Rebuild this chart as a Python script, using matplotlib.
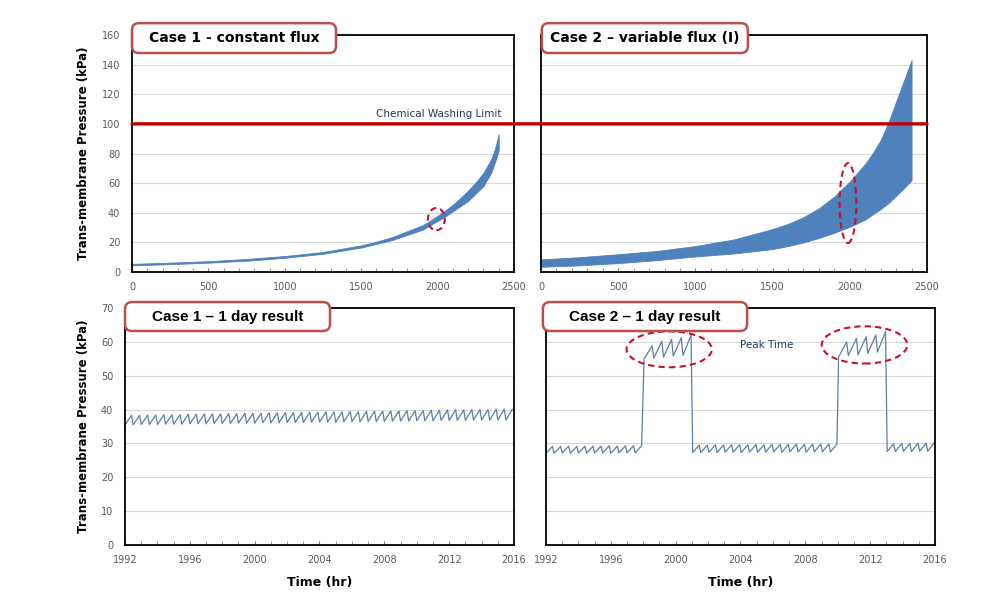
import matplotlib.pyplot as plt
from matplotlib.patches import ConnectionPatch, Ellipse, FancyBboxPatch

# ---- long run TMP (hr vs kPa), upper / lower edge of the daily band
case1_hours = [0, 250, 500, 750, 1000, 1250, 1500, 1600, 1700, 1800, 1900, 1950, 2000, 2050,
               2100, 2150, 2200, 2250, 2300, 2350, 2375, 2400]
case1_upper = [5.5, 6.3, 7.3, 8.8, 10.8, 13.5, 18.0, 20.5, 23.5, 27.5, 31.5, 34.5, 38.0, 41.5,
               45.5, 50.0, 55.0, 60.5, 67.0, 76.0, 83.0, 93.0]
case1_lower = [4.5, 5.3, 6.3, 7.6, 9.6, 12.3, 16.5, 19.0, 21.5, 25.0, 28.5, 31.5, 34.5, 37.5,
               41.0, 44.5, 48.0, 53.0, 58.0, 67.0, 74.0, 82.0]

case2_hours = [0, 250, 500, 750, 1000, 1250, 1500, 1600, 1700, 1800, 1900, 2000, 2100, 2150,
               2200, 2250, 2300, 2350, 2400]
case2_upper = [8.5, 10.0, 12.0, 14.2, 17.5, 22.0, 29.0, 32.5, 37.0, 43.0, 51.0, 61.0, 73.0, 80.5,
               89.0, 101.0, 115.0, 129.0, 143.0]
case2_lower = [3.5, 4.5, 6.0, 8.0, 10.5, 12.5, 15.5, 17.5, 20.0, 23.0, 26.5, 30.5, 35.5, 39.0,
               42.5, 46.5, 51.5, 56.5, 62.0]

washing_limit = 100

# ---- 1 day result, filtration cycles (start hour, TMP at start, TMP at end of cycle)
day1_start = [1992.0, 1992.5, 1993.0, 1993.5, 1994.0, 1994.5, 1995.0, 1995.5, 1996.0, 1996.5,
              1997.0, 1997.5, 1998.0, 1998.5, 1999.0, 1999.5, 2000.0, 2000.5, 2001.0, 2001.5,
              2002.0, 2002.5, 2003.0, 2003.5, 2004.0, 2004.5, 2005.0, 2005.5, 2006.0, 2006.5,
              2007.0, 2007.5, 2008.0, 2008.5, 2009.0, 2009.5, 2010.0, 2010.5, 2011.0, 2011.5,
              2012.0, 2012.5, 2013.0, 2013.5, 2014.0, 2014.5, 2015.0, 2015.5]
day1_low = [35.5, 35.5, 35.6, 35.6, 35.6, 35.7, 35.7, 35.7, 35.8, 35.8,
            35.8, 35.9, 35.9, 35.9, 36.0, 36.0, 36.0, 36.1, 36.1, 36.1,
            36.2, 36.2, 36.2, 36.3, 36.3, 36.3, 36.3, 36.4, 36.4, 36.4,
            36.5, 36.5, 36.5, 36.6, 36.6, 36.6, 36.7, 36.7, 36.7, 36.8,
            36.8, 36.8, 36.8, 36.9, 36.9, 36.9, 36.9, 36.9]
day1_high = [38.3, 38.3, 38.4, 38.4, 38.5, 38.5, 38.5, 38.6, 38.6, 38.7,
             38.7, 38.7, 38.8, 38.8, 38.9, 38.9, 38.9, 39.0, 39.0, 39.1,
             39.1, 39.1, 39.2, 39.2, 39.3, 39.3, 39.3, 39.4, 39.4, 39.5,
             39.5, 39.5, 39.6, 39.6, 39.7, 39.7, 39.7, 39.8, 39.8, 39.9,
             39.9, 39.9, 40.0, 40.0, 40.0, 40.1, 40.1, 40.1]

# case 2: normal - peak - normal - peak - normal
day2_start = [1992.0, 1992.5, 1993.0, 1993.5, 1994.0, 1994.5, 1995.0, 1995.5, 1996.0, 1996.5, 1997.0, 1997.5,
              1998.05, 1998.65, 1999.25, 1999.85, 2000.45,
              2001.05, 2001.55, 2002.05, 2002.55, 2003.05, 2003.55, 2004.05, 2004.55, 2005.05,
              2005.55, 2006.05, 2006.55, 2007.05, 2007.55, 2008.05, 2008.55, 2009.05, 2009.55,
              2010.05, 2010.65, 2011.25, 2011.85, 2012.45,
              2013.05, 2013.55, 2014.05, 2014.55, 2015.05, 2015.55]
day2_low = [27.1, 27.1, 27.2, 27.1, 27.2, 27.1, 27.2, 27.2, 27.1, 27.2, 27.2, 27.2,
            55.0, 55.2, 55.5, 55.8, 56.0,
            27.3, 27.3, 27.4, 27.3, 27.4, 27.4, 27.3, 27.4, 27.4,
            27.4, 27.5, 27.4, 27.5, 27.5, 27.4, 27.5, 27.5, 27.5,
            55.5, 56.0, 56.2, 56.6, 57.0,
            27.6, 27.6, 27.7, 27.6, 27.7, 27.7]
day2_high = [29.1, 29.1, 29.2, 29.1, 29.2, 29.2, 29.2, 29.3, 29.2, 29.3, 29.3, 29.3,
             58.8, 60.2, 60.8, 61.2, 62.0,
             29.5, 29.5, 29.6, 29.5, 29.6, 29.6, 29.6, 29.7, 29.6,
             29.7, 29.7, 29.7, 29.8, 29.7, 29.8, 29.8, 29.8, 29.8,
             60.0, 61.0, 61.5, 62.0, 63.0,
             29.9, 30.0, 30.0, 30.1, 30.1, 30.2]
day2_cycle = [0.4] * 12 + [0.5] * 5 + [0.4] * 18 + [0.5] * 5 + [0.4] * 6

W, H = 996, 608
BLUE = '#4f81bd'
LINE = '#5b7fa9'
BOX_EDGE = '#b9504e'
TICK_COLOR = '#595959'


def sawtooth(starts, lows, highs, cycle):
    xs, ys = [], []
    for t, lo, hi, c in zip(starts, lows, highs, cycle):
        xs += [t, t + c]
        ys += [lo, hi]
    return xs, ys


def add_axes_px(fig, left, top, right, bottom):
    return fig.add_axes([left / W, 1 - bottom / H, (right - left) / W, (bottom - top) / H])


def style_axes(ax, ylim, ystep, show_y):
    ax.set_ylim(*ylim)
    ax.set_yticks(range(ylim[0], ylim[1] + 1, ystep))
    ax.grid(axis='y', color='#d9d9d9', linewidth=0.8)
    ax.set_axisbelow(True)
    for spine in ax.spines.values():
        spine.set_linewidth(1.3)
        spine.set_color('black')
    ax.tick_params(axis='y', length=0, pad=8.5, labelsize=7, labelcolor=TICK_COLOR,
                   labelleft=show_y)
    ax.tick_params(axis='x', which='both', direction='in', length=3, color='#7f7f7f',
                   pad=7, labelsize=7, labelcolor=TICK_COLOR)


def case_box(ax, x0, x1, y0, y1, text, family, size):
    bb = ax.get_position()
    aspect = (bb.width * W) / (bb.height * H)
    box = FancyBboxPatch((x0, y0), x1 - x0, y1 - y0,
                         boxstyle='round,pad=0,rounding_size=0.018', mutation_aspect=aspect,
                         transform=ax.transAxes, facecolor='white', edgecolor=BOX_EDGE,
                         linewidth=1.8, clip_on=False, zorder=6)
    ax.add_patch(box)
    ax.text((x0 + x1) / 2, (y0 + y1) / 2, text, transform=ax.transAxes, ha='center',
            va='center', fontsize=size, fontweight='bold', family=family, zorder=7)


def red_ellipse(ax, center, width, height):
    ax.add_patch(Ellipse(center, width, height, fill=False, edgecolor='#c8102e',
                         linestyle=(0, (3, 2)), linewidth=1.5, zorder=5))


fig = plt.figure(figsize=(W / 100, H / 100), dpi=100)
ax_tl = add_axes_px(fig, 132, 35, 514, 272)
ax_tr = add_axes_px(fig, 541, 35, 927, 272)
ax_bl = add_axes_px(fig, 125, 308, 514, 545)
ax_br = add_axes_px(fig, 546, 308, 935, 545)

# ---- top row
for ax, hrs, up, lo in [(ax_tl, case1_hours, case1_upper, case1_lower),
                        (ax_tr, case2_hours, case2_upper, case2_lower)]:
    ax.fill_between(hrs, lo, up, color=BLUE, linewidth=0.6, edgecolor=BLUE)
    ax.set_xlim(0, 2500)
    ax.set_xticks(range(0, 2501, 500))
    ax.set_xticks(range(0, 2501, 100), minor=True)

style_axes(ax_tl, (0, 160), 20, True)
style_axes(ax_tr, (0, 160), 20, False)
ax_tl.set_ylabel('Trans-membrane Pressure (kPa)', fontsize=8.5, fontweight='bold')
ax_tl.yaxis.set_label_coords(-0.11, 0.5)

limit = ConnectionPatch(xyA=(0, washing_limit), coordsA=ax_tl.transData,
                        xyB=(2500, washing_limit), coordsB=ax_tr.transData,
                        color='#c00000', linewidth=2.4, zorder=8)
fig.add_artist(limit)
ax_tl.text(2420, washing_limit + 3, 'Chemical Washing Limit', ha='right', va='bottom',
           fontsize=7.5, color='#1f3864')

red_ellipse(ax_tl, (1992, 35.7), 111, 15)
red_ellipse(ax_tr, (1988, 46.5), 108, 54)

# ---- bottom row
x1, y1 = sawtooth(day1_start, day1_low, day1_high, [0.4] * len(day1_start))
x2, y2 = sawtooth(day2_start, day2_low, day2_high, day2_cycle)
ax_bl.plot(x1, y1, color=LINE, linewidth=0.9)
ax_br.plot(x2, y2, color=LINE, linewidth=0.9)

for ax in (ax_bl, ax_br):
    ax.set_xlim(1992, 2016)
    ax.set_xticks(range(1992, 2017, 4))
    ax.set_xticks(range(1992, 2017, 1), minor=True)
    ax.set_xlabel('Time (hr)', fontsize=9, fontweight='bold')
    ax.xaxis.set_label_coords(0.5, -0.13)

style_axes(ax_bl, (0, 70), 10, True)
style_axes(ax_br, (0, 70), 10, False)
ax_bl.set_ylabel('Trans-membrane Pressure (kPa)', fontsize=8.5, fontweight='bold')
ax_bl.yaxis.set_label_coords(-0.09, 0.5)

red_ellipse(ax_br, (1999.6, 57.8), 5.26, 10.6)
red_ellipse(ax_br, (2011.65, 59.1), 5.28, 11.0)
ax_br.text(2004.0, 59.2, 'Peak Time', ha='left', va='center', fontsize=7.5, color='#1f3864')

# ---- case labels
case_box(ax_tl, 0.0, 0.534, 0.924, 1.05, 'Case 1 - constant flux', 'DejaVu Sans', 10)
case_box(ax_tr, 0.002, 0.536, 0.924, 1.05, 'Case 2 \u2013 variable flux (I)', 'DejaVu Sans', 10)
case_box(ax_bl, 0.0, 0.527, 0.903, 1.025, 'Case 1 \u2013 1 day result', 'Liberation Sans', 11)
case_box(ax_br, -0.008, 0.517, 0.903, 1.025, 'Case 2 \u2013 1 day result', 'Liberation Sans', 11)

plt.savefig('out.png', dpi=100)
plt.close(fig)
